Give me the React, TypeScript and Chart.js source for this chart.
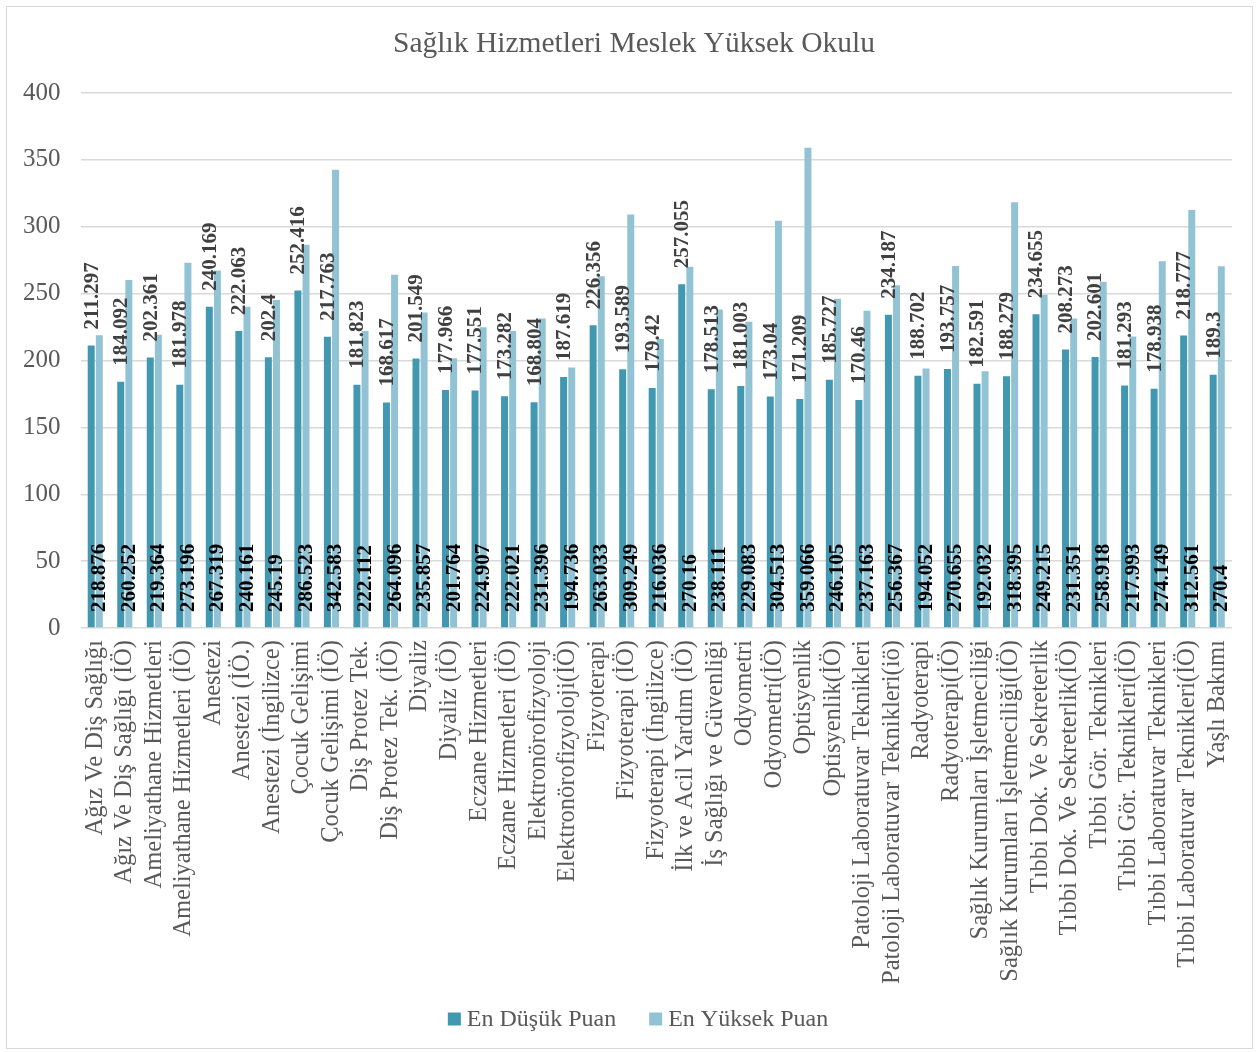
import React, { useEffect, useRef } from "react";
import { Chart, registerables } from "chart.js";

Chart.register(...registerables);

const categories = [
  "Ağız Ve Diş Sağlığı",
  "Ağız Ve Diş Sağlığı (İÖ)",
  "Ameliyathane Hizmetleri",
  "Ameliyathane Hizmetleri (İÖ)",
  "Anestezi",
  "Anestezi (İÖ.)",
  "Anestezi (İngilizce)",
  "Çocuk Gelişimi",
  "Çocuk Gelişimi (İÖ)",
  "Diş Protez Tek.",
  "Diş Protez Tek. (İÖ)",
  "Diyaliz",
  "Diyaliz (İÖ)",
  "Eczane Hizmetleri",
  "Eczane Hizmetleri (İÖ)",
  "Elektronörofizyoloji",
  "Elektronörofizyoloji(İÖ)",
  "Fizyoterapi",
  "Fizyoterapi (İÖ)",
  "Fizyoterapi (İngilizce)",
  "İlk ve Acil Yardım (İÖ)",
  "İş Sağlığı ve Güvenliği",
  "Odyometri",
  "Odyometri(İÖ)",
  "Optisyenlik",
  "Optisyenlik(İÖ)",
  "Patoloji Laboratuvar Teknikleri",
  "Patoloji Laboratuvar Teknikleri(iö)",
  "Radyoterapi",
  "Radyoterapi(İÖ)",
  "Sağlık Kurumları İşletmeciliği",
  "Sağlık Kurumları İşletmeciliği(İÖ)",
  "Tıbbi Dok. Ve Sekreterlik",
  "Tıbbi Dok. Ve Sekreterlik(İÖ)",
  "Tıbbi Gör. Teknikleri",
  "Tıbbi Gör. Teknikleri(İÖ)",
  "Tıbbi Laboratuvar Teknikleri",
  "Tıbbi Laboratuvar Teknikleri(İÖ)",
  "Yaşlı Bakımı",
];

const lowScores = [
  211.297, 184.092, 202.361, 181.978, 240.169, 222.063, 202.4, 252.416, 217.763,
  181.823, 168.617, 201.549, 177.966, 177.551, 173.282, 168.804, 187.619, 226.356,
  193.589, 179.42, 257.055, 178.513, 181.003, 173.04, 171.209, 185.727, 170.46,
  234.187, 188.702, 193.757, 182.591, 188.279, 234.655, 208.273, 202.601, 181.293,
  178.938, 218.777, 189.3,
];

const highScores = [
  218.876, 260.252, 219.364, 273.196, 267.319, 240.161, 245.19, 286.523, 342.583,
  222.112, 264.096, 235.857, 201.764, 224.907, 222.021, 231.396, 194.736, 263.033,
  309.249, 216.036, 270.16, 238.111, 229.083, 304.513, 359.066, 246.105, 237.163,
  256.367, 194.052, 270.655, 192.032, 318.395, 249.215, 231.351, 258.918, 217.993,
  274.149, 312.561, 270.4,
];

const seriesNames = ["En Düşük Puan", "En Yüksek Puan"];
const seriesColors = ["#4298B0", "#92C3D5"];
const chartTitle = "Sağlık Hizmetleri Meslek Yüksek Okulu";

const FONT = "'Liberation Serif', 'Times New Roman', serif";

const labelPlugin = {
  id: "barValueLabels",
  afterDatasetsDraw(chart: any) {
    const ctx = chart.ctx;
    const yScale = chart.scales.y;
    const base = yScale.getPixelForValue(0);
    ctx.save();
    ctx.font = `bold 21px ${FONT}`;
    ctx.textAlign = "left";
    ctx.textBaseline = "middle";
    chart.data.datasets.forEach((ds: any, i: number) => {
      const meta = chart.getDatasetMeta(i);
      meta.data.forEach((bar: any, j: number) => {
        const text = String(ds.data[j]);
        let x: number;
        let y: number;
        if (i === 0) {
          x = bar.x + 1;
          y = bar.y - 16;
          ctx.fillStyle = "#404040";
        } else {
          x = bar.x + 0.5;
          y = base - 16;
          ctx.fillStyle = "#000000";
        }
        ctx.save();
        ctx.translate(x, y);
        ctx.rotate(-Math.PI / 2);
        ctx.fillText(text, 0, 0);
        ctx.restore();
      });
    });
    ctx.restore();
  },
};

const titleLegendPlugin = {
  id: "titleAndLegend",
  afterDraw(chart: any) {
    const ctx = chart.ctx;
    ctx.save();
    // title
    ctx.font = `29.5px ${FONT}`;
    ctx.fillStyle = "#595959";
    ctx.textAlign = "center";
    ctx.textBaseline = "middle";
    ctx.fillText(chartTitle, 634, 44);
    // legend
    ctx.font = `24px ${FONT}`;
    ctx.textAlign = "left";
    const box = 13;
    const boxGap = 6;
    const itemGap = 33;
    const widths = seriesNames.map((n) => ctx.measureText(n).width);
    const total =
      widths.reduce((a, w) => a + box + boxGap + w, 0) + itemGap * (seriesNames.length - 1);
    let x = 638 - total / 2;
    const cy = 1019;
    seriesNames.forEach((n, i) => {
      ctx.fillStyle = seriesColors[i];
      ctx.fillRect(x, cy - box / 2, box, box);
      ctx.fillStyle = "#595959";
      ctx.fillText(n, x + box + boxGap, cy + 1);
      x += box + boxGap + widths[i] + itemGap;
    });
    ctx.restore();
  },
};

export default function App() {
  const canvasRef = useRef<HTMLCanvasElement | null>(null);

  useEffect(() => {
    document.body.style.margin = "0";
    const canvas = canvasRef.current;
    if (!canvas) return;
    const chart = new Chart(canvas, {
      type: "bar",
      data: {
        labels: categories,
        datasets: [
          {
            label: seriesNames[0],
            data: lowScores,
            backgroundColor: seriesColors[0],
            categoryPercentage: 0.55,
            barPercentage: 0.86,
          },
          {
            label: seriesNames[1],
            data: highScores,
            backgroundColor: seriesColors[1],
            categoryPercentage: 0.55,
            barPercentage: 0.86,
          },
        ],
      },
      options: {
        animation: false,
        responsive: false,
        maintainAspectRatio: false,
        layout: { padding: { left: 3, right: 27, top: 93, bottom: 64 } },
        plugins: {
          title: { display: false },
          legend: { display: false },
          tooltip: { enabled: false },
        },
        scales: {
          x: {
            grid: { display: false },
            border: { display: false },
            ticks: {
              color: "#595959",
              font: { family: FONT, size: 24.5 },
              minRotation: 90,
              maxRotation: 90,
              autoSkip: false,
              padding: 4,
            },
          },
          y: {
            min: 0,
            max: 400,
            grid: { color: "#D9D9D9", lineWidth: 1.5, drawTicks: false },
            border: { display: false },
            ticks: {
              stepSize: 50,
              color: "#595959",
              font: { family: FONT, size: 25 },
              padding: 20,
            },
          },
        },
      },
      plugins: [labelPlugin, titleLegendPlugin],
    });
    return () => chart.destroy();
  }, []);

  return (
    <div style={{ position: "relative", width: 1259, height: 1052 }}>
      <canvas
        ref={canvasRef}
        width={1259}
        height={1052}
        style={{ position: "absolute", left: 0, top: 0, width: 1259, height: 1052 }}
      />
      <div
        style={{
          position: "absolute",
          left: 6,
          top: 6,
          width: 1245,
          height: 1041,
          border: "1px solid #D9D9D9",
          pointerEvents: "none",
        }}
      />
    </div>
  );
}
